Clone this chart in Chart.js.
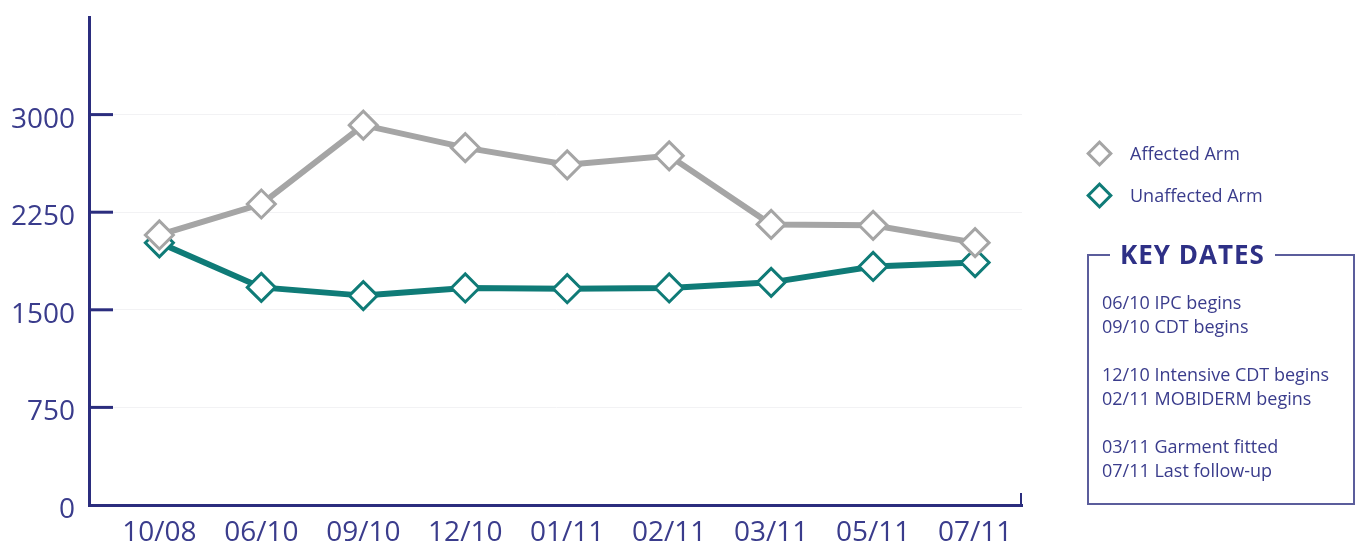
<!DOCTYPE html>
<html>
<head>
<meta charset="utf-8">
<script src="https://cdn.jsdelivr.net/npm/chart.js@4/dist/chart.umd.min.js"></script>
<style>
  html, body { margin: 0; padding: 0; background: #fff; }
  body { width: 1362px; height: 544px; position: relative; overflow: hidden;
         font-family: 'Open Sans', sans-serif; color: #3a3c8c; }
  #wrap { position: absolute; left: 0; top: 0; width: 1362px; height: 544px; }
  #legend { position: absolute; left: 1085px; top: 132px; }
  .lg-item { display: flex; align-items: center; height: 42px; font-size: 18px; }
  .lg-mark { width: 19px; height: 19px; box-sizing: border-box; border: 3px solid;
             background: #fff; transform: rotate(45deg); margin: 0 21px 0 5px; }
  #keybox { position: absolute; left: 1087px; top: 254px; width: 268px; height: 251px;
            box-sizing: border-box; border: 2px solid #5b5d9c; padding: 34px 0 0 13px; }
  #keybox h3 { position: absolute; left: 21px; top: -19px; margin: 0; padding: 0 10px;
               background: #fff; font-size: 26px; font-weight: 700; letter-spacing: 1px;
               line-height: 34px; color: #2e3086; }
  .kd-group { margin-bottom: 24px; }
  .kd-group div { font-size: 18px; line-height: 24px; white-space: nowrap; }
</style>
</head>
<body>
<div id="wrap"><canvas id="chart"></canvas></div>
<div id="legend"></div>
<div id="keybox"><h3>KEY DATES</h3><div id="keydates"></div></div>
<script>
// ─── Datos ────────────────────────────────────────────────────────
const DATES      = ['10/08', '06/10', '09/10', '12/10', '01/11', '02/11', '03/11', '05/11', '07/11'];
const AFFECTED   = [2075, 2313, 2919, 2746, 2614, 2683, 2156, 2149, 2016];
const UNAFFECTED = [2015, 1672, 1609, 1668, 1662, 1668, 1711, 1833, 1863];
const Y_TICKS    = [0, 750, 1500, 2250, 3000];
const KEY_DATES  = [
  ['06/10 IPC begins', '09/10 CDT begins'],
  ['12/10 Intensive CDT begins', '02/11 MOBIDERM begins'],
  ['03/11 Garment fitted', '07/11 Last follow-up'],
];

const NAVY = '#2b2d7e';
const TEXT = '#3a3c8c';
const GREY = '#a5a5a5';
const TEAL = '#0f7b77';

Chart.defaults.font.family = "'Open Sans', sans-serif";

// marcas cortas hacia adentro del eje Y + remate del eje X
const axisMarks = {
  id: 'axisMarks',
  beforeDatasetsDraw(chart) {
    const { ctx, chartArea, scales } = chart;
    ctx.save();
    ctx.strokeStyle = NAVY;
    ctx.lineWidth = 3;
    Y_TICKS.filter(v => v > 0).forEach(v => {
      const y = scales.y.getPixelForValue(v);
      ctx.beginPath();
      ctx.moveTo(chartArea.left, y);
      ctx.lineTo(chartArea.left + 24, y);
      ctx.stroke();
    });
    ctx.lineWidth = 2;
    ctx.beginPath();
    ctx.moveTo(chartArea.right - 1, chartArea.bottom);
    ctx.lineTo(chartArea.right - 1, chartArea.bottom - 12);
    ctx.stroke();
    ctx.restore();
  },
};

function series(label, values, color) {
  return {
    label,
    data: values.map((v, i) => ({ x: i, y: v })),
    borderColor: color,
    borderWidth: 6,
    tension: 0,
    pointStyle: 'rectRot',
    pointRadius: 14,
    pointHoverRadius: 14,
    pointBackgroundColor: '#fff',
    pointBorderColor: color,
    pointBorderWidth: 3,
  };
}

const chart = new Chart(document.getElementById('chart'), {
  type: 'line',
  data: {
    datasets: [
      series('Affected Arm', AFFECTED, GREY),
      series('Unaffected Arm', UNAFFECTED, TEAL),
    ],
  },
  options: {
    responsive: true,
    maintainAspectRatio: false,
    animation: false,
    layout: { padding: { top: 12, right: 340, left: 0, bottom: 0 } },
    plugins: { legend: { display: false }, tooltip: { enabled: false } },
    scales: {
      x: {
        type: 'linear',
        min: -0.69,
        max: 8.46,
        afterBuildTicks: s => { s.ticks = DATES.map((_, i) => ({ value: i })); },
        afterFit: s => { s.height = 39; },
        grid: { display: false },
        border: { color: NAVY, width: 3 },
        ticks: {
          padding: 3,
          color: TEXT,
          font: { size: 28 },
          autoSkip: false,
          maxRotation: 0,
          callback: v => DATES[v],
        },
      },
      y: {
        min: 0,
        max: 3750,
        afterBuildTicks: s => { s.ticks = Y_TICKS.concat([3750]).map(v => ({ value: v })); },
        afterFit: s => { s.width = 89; s.paddingTop = 0; },
        grid: { color: '#f2f2f4', lineWidth: 1, drawTicks: false },
        border: { color: NAVY, width: 3 },
        ticks: {
          padding: 14,
          labelOffset: 5,
          color: TEXT,
          font: { size: 28 },
          callback: v => (Y_TICKS.includes(v) ? String(v) : null),
        },
      },
    },
  },
  plugins: [axisMarks],
});

// leyenda HTML a partir de los datasets
const legendEl = document.getElementById('legend');
chart.data.datasets.forEach(ds => {
  const item = document.createElement('div');
  item.className = 'lg-item';
  item.innerHTML = `<span class="lg-mark" style="border-color:${ds.borderColor}"></span>${ds.label}`;
  legendEl.appendChild(item);
});

const kdEl = document.getElementById('keydates');
KEY_DATES.forEach(group => {
  const g = document.createElement('div');
  g.className = 'kd-group';
  group.forEach(t => {
    const line = document.createElement('div');
    line.textContent = t;
    g.appendChild(line);
  });
  kdEl.appendChild(g);
});
</script>
</body>
</html>
